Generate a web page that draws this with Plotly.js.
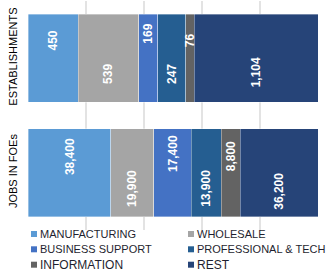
<!DOCTYPE html>
<html>
<head>
<meta charset="utf-8">
<script src="https://cdn.plot.ly/plotly-3.0.1.min.js"></script>
<style>html,body{margin:0;padding:0;background:#fff}#chart{width:332px;height:279px}</style>
</head>
<body>
<div id="chart"></div>
<script>
const categories = ['ESTABLISHMENTS', 'JOBS IN FOEs'];
const seriesNames = ['MANUFACTURING', 'WHOLESALE', 'BUSINESS SUPPORT', 'PROFESSIONAL & TECH', 'INFORMATION', 'REST'];
const establishments = [450, 539, 169, 247, 76, 1104];
const jobs = [38400, 19900, 17400, 13900, 8800, 36200];
const colors = ['#5B9BD5', '#A5A5A5', '#4472C4', '#255E91', '#636363', '#264478'];
const labelShift = [[18, -16, 25, -16, 18, -14], [16, -16, 19, -16, 16, -19]];

// legend layout (pixels): column text starts, row centers, font sizes
const legendColX = [31, 188];
const legendRowY = [234, 249.3, 264.7];
const legendFontSize = [11, 11, 11, 11, 12, 12];

const W = 332, H = 279, M = {l: 28, r: 14, t: 1, b: 49};
const PW = W - M.l - M.r, PH = H - M.t - M.b;
const px2x = p => (p - M.l) / PW;
const px2y = p => (H - M.b - p) / PH;

const rows = [establishments, jobs];
const totals = rows.map(r => r.reduce((a, b) => a + b, 0));
const pct = rows.map((r, i) => r.map(v => v / totals[i] * 100));

const traces = seriesNames.map((name, s) => ({
  type: 'bar', orientation: 'h', name: name,
  y: categories, x: [pct[0][s], pct[1][s]],
  marker: {color: colors[s], line: {color: 'rgba(255,255,255,0.6)', width: 0.6}},
  width: 0.77, showlegend: false, hoverinfo: 'skip'
}));

const annotations = [];
rows.forEach((r, i) => {
  let cum = 0;
  r.forEach((v, s) => {
    const mid = cum + pct[i][s] / 2;
    cum += pct[i][s];
    annotations.push({
      x: mid, y: categories[i], xref: 'x', yref: 'y',
      text: v.toLocaleString('en-US'), showarrow: false, textangle: -90,
      yshift: labelShift[i][s],
      font: {family: 'Liberation Sans, Arial, sans-serif', size: 12, color: '#FFFFFF', weight: 'bold'}
    });
  });
});

const shapes = [];
seriesNames.forEach((name, s) => {
  const cx = legendColX[s % 2], cy = legendRowY[Math.floor(s / 2)];
  shapes.push({type: 'rect', xref: 'paper', yref: 'paper',
    x0: px2x(cx), x1: px2x(cx + 6), y0: px2y(cy + 3), y1: px2y(cy - 3),
    fillcolor: colors[s], line: {width: 0}});
  annotations.push({xref: 'paper', yref: 'paper', x: px2x(cx + 7), y: px2y(cy),
    xanchor: 'left', yanchor: 'middle', text: name, showarrow: false,
    font: {family: 'Liberation Sans, Arial, sans-serif', size: legendFontSize[s], color: '#1F1F2F'}});
});

const layout = {
  width: W, height: H,
  margin: Object.assign({autoexpand: false}, M),
  paper_bgcolor: '#fff', plot_bgcolor: '#fff',
  barmode: 'stack',
  font: {family: 'Liberation Sans, Arial, sans-serif', size: 11, color: '#000'},
  xaxis: {range: [0, 100], dtick: 20, tick0: 0, showgrid: true, gridcolor: '#E3E3E3', gridwidth: 1.5,
          showticklabels: false, zeroline: false, showline: false, fixedrange: true},
  yaxis: {type: 'category', autorange: 'reversed', tickangle: -90, showgrid: false, zeroline: false,
          ticks: '', ticklabelstandoff: 8, tickfont: {size: 11, color: '#000'}, fixedrange: true},
  showlegend: false,
  shapes: shapes,
  annotations: annotations
};
Plotly.newPlot('chart', traces, layout, {displayModeBar: false, staticPlot: true});
</script>
</body>
</html>
